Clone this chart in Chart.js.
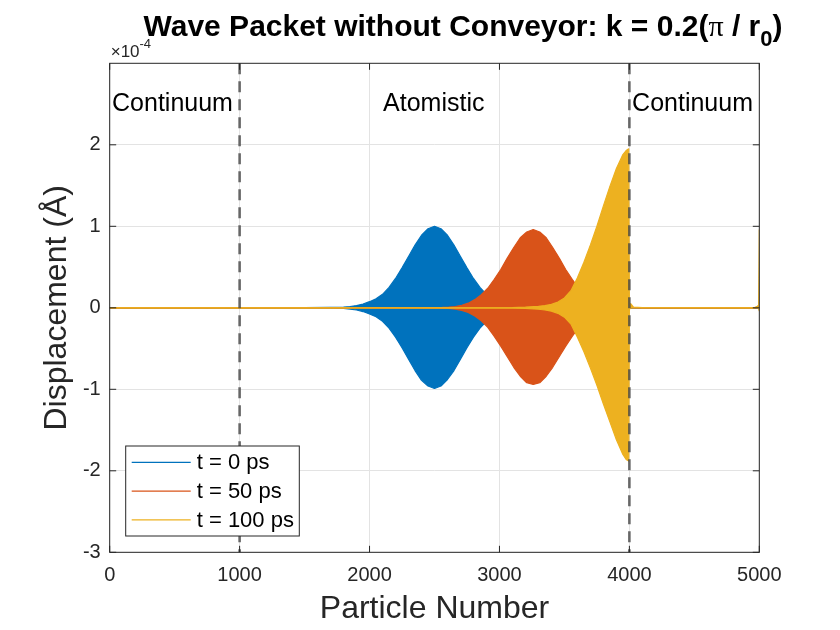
<!DOCTYPE html>
<html><head><meta charset="utf-8">
<script src="https://cdn.jsdelivr.net/npm/chart.js@4.4.1/dist/chart.umd.min.js"></script>
<style>html,body{margin:0;padding:0;background:#fff;}canvas{display:block;}</style>
</head><body>
<canvas id="c" width="840" height="630" style="width:840px;height:630px"></canvas>
<script>
// ---- data (values in units of 1e-4 Å) ----
const seriesLabels = ['t = 0 ps', 't = 50 ps', 't = 100 ps'];
const seriesColors = ['#0072BD', '#D95319', '#EDB120'];

// t = 0 ps : envelope of the packet
const blueX     = [0, 1500, 1700, 1800, 1850, 1900, 1950, 2000, 2050, 2100, 2150, 2200, 2250, 2300, 2350, 2400, 2450, 2500, 2550, 2600, 2650, 2700, 2750, 2800, 2850, 2900, 2950, 3000, 3050, 3100, 3150, 3200, 3300, 3500, 5000];
const blueUpper = [0, 0.001, 0.004, 0.008, 0.016, 0.027, 0.046, 0.075, 0.11, 0.165, 0.25, 0.36, 0.49, 0.63, 0.77, 0.89, 0.97, 1.00, 0.97, 0.89, 0.77, 0.63, 0.49, 0.36, 0.25, 0.165, 0.10, 0.06, 0.033, 0.017, 0.008, 0.004, 0.001, 0, 0];
const blueLower = [0, -0.001, -0.004, -0.008, -0.016, -0.027, -0.046, -0.075, -0.11, -0.165, -0.25, -0.36, -0.49, -0.63, -0.77, -0.89, -0.96, -0.99, -0.96, -0.88, -0.77, -0.63, -0.49, -0.36, -0.25, -0.165, -0.10, -0.06, -0.033, -0.017, -0.008, -0.004, -0.001, 0, 0];

// t = 50 ps
const orangeX     = [0, 2400, 2560, 2610, 2660, 2710, 2760, 2810, 2860, 2910, 2960, 3010, 3060, 3110, 3160, 3210, 3260, 3310, 3360, 3410, 3460, 3510, 3560, 3610, 3660, 3710, 3760, 3810, 3860, 3910, 3960, 4000, 4010, 4030, 4100, 4970, 4990, 5000];
const orangeUpper = [0, 0.001, 0.004, 0.008, 0.016, 0.031, 0.057, 0.10, 0.16, 0.24, 0.35, 0.47, 0.61, 0.74, 0.86, 0.93, 0.96, 0.93, 0.86, 0.74, 0.61, 0.47, 0.35, 0.24, 0.16, 0.10, 0.057, 0.031, 0.016, 0.008, 0.004, 0.002, 0.03, 0.004, 0, 0, 0.02, 0];
const orangeLower = [0, -0.001, -0.004, -0.008, -0.016, -0.031, -0.057, -0.10, -0.16, -0.24, -0.35, -0.47, -0.60, -0.73, -0.84, -0.92, -0.94, -0.92, -0.84, -0.73, -0.60, -0.47, -0.35, -0.24, -0.16, -0.10, -0.057, -0.031, -0.016, -0.008, -0.004, -0.002, 0, 0, 0, 0, 0, 0];

// t = 100 ps
const yellowX     = [0, 3100, 3200, 3300, 3350, 3400, 3450, 3500, 3550, 3600, 3650, 3700, 3750, 3800, 3850, 3900, 3950, 3975, 3995, 4000, 4010, 4030, 4100, 4960, 4985, 4995, 5000];
const yellowUpper = [0, 0.003, 0.008, 0.018, 0.027, 0.042, 0.07, 0.12, 0.21, 0.37, 0.56, 0.77, 1.00, 1.25, 1.49, 1.71, 1.88, 1.93, 1.95, 0.03, 0.05, 0.01, 0.003, 0, 0.02, 0.03, 0.96];
const yellowLower = [0, -0.003, -0.008, -0.018, -0.027, -0.041, -0.068, -0.115, -0.20, -0.36, -0.54, -0.74, -0.95, -1.18, -1.40, -1.62, -1.80, -1.86, -1.88, -0.02, 0, 0, 0, 0, 0, -0.01, -0.04];

const xTicks = [0, 1000, 2000, 3000, 4000, 5000];
const yTicks = [-3, -2, -1, 0, 1, 2];
const xRange = [0, 5000];
const yRange = [-3, 3];
const boundaryX = [1000, 4000];
const regionLabels = ['Continuum', 'Atomistic', 'Continuum'];
const regionLabelX = [18, 2104, 4021];
const regionLabelY = 2.5;

// ---- build chart ----
const FONT = "'Liberation Sans', Arial, Helvetica, sans-serif";
const AX = '#262626';
function pts(xs, ys) { return xs.map((x, i) => ({ x: x, y: ys[i] })); }

const envelopes = [
  [blueX, blueUpper, blueLower],
  [orangeX, orangeUpper, orangeLower],
  [yellowX, yellowUpper, yellowLower]
];
const datasets = [];
envelopes.forEach((e, s) => {
  const ord = 3 - s; // later series drawn on top
  datasets.push({ label: seriesLabels[s], data: pts(e[0], e[1]), borderColor: seriesColors[s], backgroundColor: seriesColors[s],
    borderWidth: 1.2, pointRadius: 0, fill: '+1', order: ord, tension: 0 });
  datasets.push({ label: seriesLabels[s] + '_lo', data: pts(e[0], e[2]), borderColor: seriesColors[s], backgroundColor: seriesColors[s],
    borderWidth: 1.2, pointRadius: 0, fill: false, order: ord, tension: 0 });
});
boundaryX.forEach(bx => {
  datasets.push({ label: 'boundary', data: [{ x: bx, y: yRange[1] }, { x: bx, y: yRange[0] }], borderColor: 'rgba(70,70,70,0.8)',
    borderWidth: 2.6, borderDash: [11, 7], pointRadius: 0, fill: false, order: 0 });
});

const decor = {
  id: 'decor',
  afterDraw(chart) {
    const ctx = chart.ctx, ca = chart.chartArea, xs = chart.scales.x, ys = chart.scales.y;
    ctx.save();
    // box
    ctx.strokeStyle = AX; ctx.lineWidth = 1;
    ctx.strokeRect(ca.left, ca.top, ca.right - ca.left, ca.bottom - ca.top);
    // inward tick marks
    const tl = 6.5;
    ctx.beginPath();
    xTicks.forEach(v => { const p = xs.getPixelForValue(v);
      ctx.moveTo(p, ca.bottom); ctx.lineTo(p, ca.bottom - tl);
      ctx.moveTo(p, ca.top); ctx.lineTo(p, ca.top + tl); });
    yTicks.forEach(v => { const p = ys.getPixelForValue(v);
      ctx.moveTo(ca.left, p); ctx.lineTo(ca.left + tl, p);
      ctx.moveTo(ca.right, p); ctx.lineTo(ca.right - tl, p); });
    ctx.stroke();

    // region labels
    ctx.fillStyle = '#000'; ctx.font = '25px ' + FONT; ctx.textBaseline = 'middle'; ctx.textAlign = 'left';
    regionLabels.forEach((t, i) => ctx.fillText(t, xs.getPixelForValue(regionLabelX[i]), ys.getPixelForValue(regionLabelY)));

    // exponent label
    ctx.fillStyle = AX; ctx.textBaseline = 'alphabetic';
    ctx.font = '17px ' + FONT; ctx.fillText('\u00d710', ca.left + 1, ca.top - 6);
    const w10 = ctx.measureText('\u00d710').width;
    ctx.font = '13px ' + FONT; ctx.fillText('-4', ca.left + 1 + w10, ca.top - 15);

    // axis titles
    ctx.font = '32px ' + FONT; ctx.textAlign = 'center'; ctx.textBaseline = 'middle';
    ctx.fillText('Particle Number', (ca.left + ca.right) / 2, 609);
    ctx.save(); ctx.translate(57, (ca.top + ca.bottom) / 2); ctx.rotate(-Math.PI / 2);
    ctx.fillText('Displacement (\u00c5)', 0, 0); ctx.restore();

    // title with subscript
    ctx.fillStyle = '#000'; ctx.textAlign = 'left'; ctx.textBaseline = 'alphabetic';
    const parts = [
      { t: 'Wave Packet without Conveyor: k = 0.2(', f: 'bold 30px ' + FONT, dy: 0 },
      { t: '\u03c0', f: '30px "Liberation Serif", "Times New Roman", serif', dy: 0 },
      { t: ' / r', f: 'bold 30px ' + FONT, dy: 0 },
      { t: '0', f: 'bold 22px ' + FONT, dy: 10 },
      { t: ')', f: 'bold 30px ' + FONT, dy: 0 }
    ];
    let total = 0;
    parts.forEach(p => { ctx.font = p.f; p.w = ctx.measureText(p.t).width; total += p.w; });
    let x = 463 - total / 2;
    const base = 36;
    parts.forEach(p => { ctx.font = p.f; ctx.fillText(p.t, x, base + p.dy); x += p.w; });

    // legend
    const lx = 125.7, ly = 446, lw = 173.6, lh = 90;
    ctx.fillStyle = '#fff'; ctx.fillRect(lx, ly, lw, lh);
    ctx.strokeStyle = AX; ctx.lineWidth = 1; ctx.strokeRect(lx, ly, lw, lh);
    ctx.font = '22px ' + FONT; ctx.textBaseline = 'middle';
    seriesLabels.forEach((t, i) => {
      const yy = 462.3 + i * 28.8;
      ctx.strokeStyle = seriesColors[i]; ctx.lineWidth = 1.2;
      ctx.beginPath(); ctx.moveTo(131.7, yy); ctx.lineTo(190.7, yy); ctx.stroke();
      ctx.fillStyle = '#000'; ctx.fillText(t, 196.7, yy + 1);
    });
    ctx.restore();
  }
};

new Chart(document.getElementById('c'), {
  type: 'line',
  data: { datasets: datasets },
  options: {
    responsive: false, animation: false, devicePixelRatio: 1,
    layout: { padding: { left: 0, top: 63.3, right: 840 - 759.3, bottom: 0 } },
    plugins: { legend: { display: false }, tooltip: { enabled: false }, title: { display: false } },
    elements: { line: { borderJoinStyle: 'round' } },
    scales: {
      x: { type: 'linear', min: xRange[0], max: xRange[1],
        afterBuildTicks: s => { s.ticks = xTicks.map(v => ({ value: v })); },
        afterFit: s => { s.height = 630 - 552.3; },
        grid: { color: '#e3e3e3', lineWidth: 1, drawTicks: false },
        border: { display: false },
        ticks: { color: AX, font: { family: FONT, size: 20 }, padding: 11, maxRotation: 0, callback: v => String(v) } },
      y: { type: 'linear', min: yRange[0], max: yRange[1],
        afterBuildTicks: s => { s.ticks = yTicks.map(v => ({ value: v })); },
        afterFit: s => { s.width = 109.7; },
        grid: { color: '#e3e3e3', lineWidth: 1, drawTicks: false },
        border: { display: false },
        ticks: { color: AX, font: { family: FONT, size: 20 }, padding: 9, callback: v => String(v) } }
    }
  },
  plugins: [decor]
});
</script>
</body></html>
